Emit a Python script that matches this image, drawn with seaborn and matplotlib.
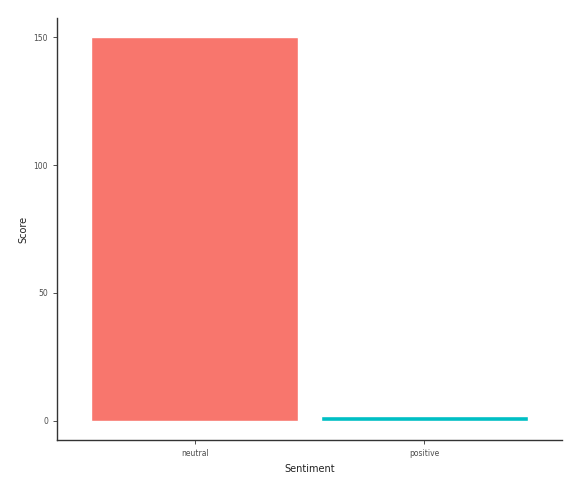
import matplotlib
matplotlib.use("Agg")
import matplotlib.pyplot as plt
import seaborn as sns
import pandas as pd

# Sentiment counts
sentiments = ["neutral", "positive"]
scores = [150, 2]
bar_colors = ["#F8766D", "#00BFC4"]
y_ticks = [0, 50, 100, 150]

df = pd.DataFrame({"Sentiment": sentiments, "Score": scores})

sns.set_theme(style="white")
fig = plt.figure(figsize=(5.66, 4.79), dpi=100)
ax = fig.add_axes([0.1007, 0.0814, 0.8923, 0.881])

sns.barplot(data=df, x="Sentiment", y="Score", hue="Sentiment",
            palette=bar_colors, width=0.9, legend=False, saturation=1,
            ax=ax)

ax.set_xlim(-0.6, 1.6)
ax.set_ylim(-7.5, 157.5)
ax.set_yticks(y_ticks)
ax.set_yticklabels([str(v) for v in y_ticks])

for side in ["top", "right"]:
    ax.spines[side].set_visible(False)
for side in ["left", "bottom"]:
    ax.spines[side].set_color("#333333")
    ax.spines[side].set_linewidth(1.0)

ax.tick_params(axis="both", which="both", direction="out", length=3,
               width=0.6, color="#333333", labelsize=5.5,
               labelcolor="#4d4d4d", left=True, bottom=True)
ax.set_xlabel("Sentiment", fontsize=7, color="#222222")
ax.set_ylabel("Score", fontsize=7, color="#222222")

fig.savefig("out.png", dpi=100)
